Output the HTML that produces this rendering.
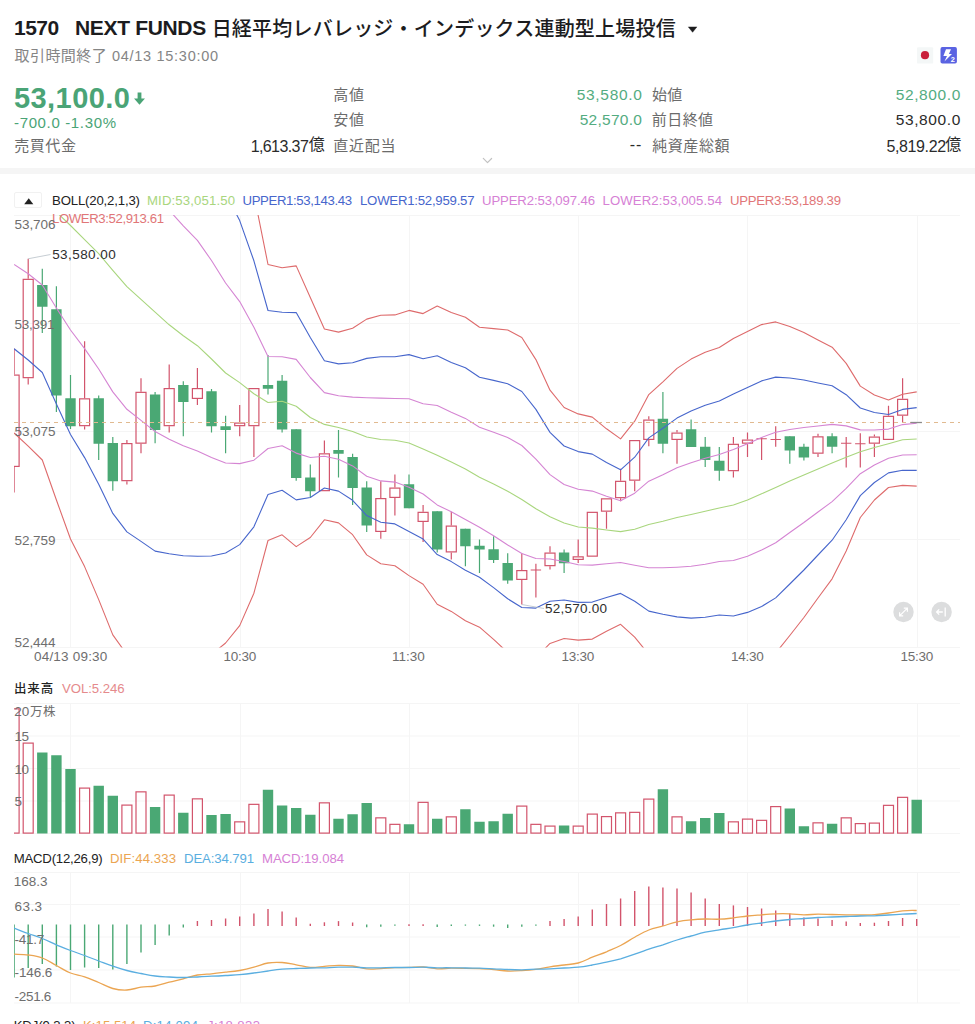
<!DOCTYPE html>
<html lang="ja">
<head>
<meta charset="utf-8">
<title>1570 NEXT FUNDS</title>
<style>
html,body{margin:0;padding:0;background:#fff;}
body{width:975px;height:1024px;position:relative;overflow:hidden;font-family:"Liberation Sans","Noto Sans CJK JP",sans-serif;}
.t{position:absolute;white-space:nowrap;line-height:20px;height:20px;}
svg{position:absolute;left:0;top:0;}
.z{font-family:"Liberation Sans","Noto Sans CJK JP",sans-serif;}
.band{position:absolute;left:0;top:167.7px;width:975px;height:6.7px;background:#f5f5f5;}
.btn{position:absolute;left:14.3px;top:192.4px;width:27.6px;height:15.8px;border:1px solid #f1f1f1;border-radius:2px;box-sizing:border-box;background:#fff;}
</style>
</head>
<body>
<div class="t" id="h1" style="top:16.48px;font-size:21px;color:#1c1c1e;line-height:24px;height:24px;font-weight:700;left:14.00px;letter-spacing:-0.533px;">1570</div><div class="t" id="h2" style="top:16.48px;font-size:21px;color:#1c1c1e;line-height:24px;height:24px;font-weight:700;left:75.00px;letter-spacing:-0.330px;">NEXT FUNDS</div><div class="t z" id="h3" style="top:18.75px;left:211.66px;font-size:20px;letter-spacing:0.21px;color:#1c1c1e;font-weight:500;">日経平均レバレッジ・インデックス連動型上場投信</div>
<div class="t z" id="s1" style="top:45.60px;left:14.60px;font-size:15px;letter-spacing:0.41px;color:#858585;">取引時間終了</div>
<div class="t" id="s2" style="top:46.01px;font-size:14.5px;color:#858585;left:112.00px;letter-spacing:0.710px;">04/13 15:30:00</div><div class="t" id="p1" style="top:81.82px;font-size:29px;color:#4aa476;line-height:32px;height:32px;font-weight:700;left:14.00px;letter-spacing:0.428px;">53,100.0</div><div class="t" id="p2" style="top:112.83px;font-size:15px;color:#4aa476;left:14.00px;letter-spacing:0.647px;">-700.0 -1.30%</div><div class="t z" id="a1" style="top:135.50px;left:14.34px;font-size:15px;letter-spacing:0.52px;color:#6b6b6b;">売買代金</div>
<div class="t" id="a2" style="top:137.07px;font-size:16px;color:#2b2b2b;right:666.20px;letter-spacing:-0.586px;margin-right:0.586px;">1,613.37</div><div class="t z" id="a2c" style="top:135.10px;left:308.83px;font-size:16px;letter-spacing:0.00px;color:#2b2b2b;">億</div>
<div class="t z" id="b1" style="top:85.00px;left:333.22px;font-size:15px;letter-spacing:0.68px;color:#6b6b6b;">高値</div>
<div class="t z" id="b2" style="top:110.20px;left:333.34px;font-size:15px;letter-spacing:0.56px;color:#6b6b6b;">安値</div>
<div class="t z" id="b3" style="top:135.50px;left:333.27px;font-size:15px;letter-spacing:0.73px;color:#6b6b6b;">直近配当</div>
<div class="t" id="c1" style="top:84.85px;font-size:15.5px;color:#53ac81;right:333.00px;letter-spacing:0.714px;margin-right:-0.714px;">53,580.0</div><div class="t" id="c2" style="top:110.05px;font-size:15.5px;color:#53ac81;right:333.00px;letter-spacing:0.286px;margin-right:-0.286px;">52,570.0</div><div class="t" id="c3" style="top:135.00px;font-size:16px;color:#2b2b2b;right:333.60px;letter-spacing:1.000px;margin-right:-1.000px;">--</div><div class="t z" id="d1" style="top:85.00px;left:651.94px;font-size:15px;letter-spacing:0.36px;color:#6b6b6b;">始値</div>
<div class="t z" id="d2" style="top:110.20px;left:651.81px;font-size:15px;letter-spacing:0.43px;color:#6b6b6b;">前日終値</div>
<div class="t z" id="d3" style="top:135.50px;left:652.23px;font-size:15px;letter-spacing:0.56px;color:#6b6b6b;">純資産総額</div>
<div class="t" id="e1" style="top:84.85px;font-size:15.5px;color:#53ac81;right:14.70px;letter-spacing:0.600px;margin-right:-0.600px;">52,800.0</div><div class="t" id="e2" style="top:110.05px;font-size:15.5px;color:#2b2b2b;right:14.70px;letter-spacing:0.600px;margin-right:-0.600px;">53,800.0</div><div class="t" id="e3" style="top:137.07px;font-size:16px;color:#2b2b2b;right:28.90px;letter-spacing:-0.371px;margin-right:0.371px;">5,819.22</div><div class="t z" id="e3c" style="top:135.10px;left:945.33px;font-size:16px;letter-spacing:0.00px;color:#2b2b2b;">億</div>
<div class="band"></div>
<div class="btn"></div>
<svg width="975" height="1024" viewBox="0 0 975 1024">
<path d="M692.6 32.3 L688.3 26.9 L696.9 26.9 Z" fill="#1c1c1e" stroke="#1c1c1e" stroke-width="0.4" stroke-linejoin="round"/>
<path d="M137.6 92.5 h3.8 v6 h3.6 l-5.5 6.2 l-5.5 -6.2 h3.6 z" fill="#4aa476"/>
<path d="M483.3 158.4 L487.5 162.6 L491.6 158.5" fill="none" stroke="#c2c2c2" stroke-width="1.2" stroke-linecap="round" stroke-linejoin="round"/>
<rect x="917" y="47.2" width="16.2" height="16.4" rx="1.2" fill="#f4f7f7"/>
<circle cx="925" cy="55.2" r="4.1" fill="#c9203b"/>
<rect x="940.5" y="47.1" width="16.4" height="16.5" rx="1.8" fill="#5a63e2"/>
<path d="M946.0 49.2L951.0 49.2L948.9 53.9L952.0 53.9L944.4 61.4L947.0 56.1L943.4 56.1Z" fill="#fff"/>
<text x="950.7" y="62" font-family="Liberation Sans, sans-serif" font-size="7.4" font-weight="700" fill="#fff">2</text>
<path d="M28.75 198.3 L33.3 204.2 L24.2 204.2 Z" fill="#222"/>
<defs><clipPath id="cm"><rect x="14" y="215" width="946" height="432.5"/></clipPath><clipPath id="cv"><rect x="14" y="700" width="946" height="134"/></clipPath><clipPath id="cd"><rect x="14" y="872" width="946" height="131"/></clipPath></defs>
<path d="M14 215.5H960 M14 323.5H960 M14 431.5H960 M14 539.5H960 M14 647.5H960 M14 703.5H960 M14 736H960 M14 768.5H960 M14 801H960 M14 833.5H960 M14 872.5H960 M14 904.5H960 M14 937H960 M14 970H960 M14 1003H960 M70.5 215V647.5M70.5 703.5V833.5M70.5 872.5V1003 M240.5 215V647.5M240.5 703.5V833.5M240.5 872.5V1003 M409.5 215V647.5M409.5 703.5V833.5M409.5 872.5V1003 M578.5 215V647.5M578.5 703.5V833.5M578.5 872.5V1003 M747.5 215V647.5M747.5 703.5V833.5M747.5 872.5V1003 M917.5 215V647.5M917.5 703.5V833.5M917.5 872.5V1003" fill="none" stroke="#f5f5f5" stroke-width="1"/>
<g clip-path="url(#cm)">
<path d="M14.1 348.5V374.5M14.1 467V492.5" stroke="#d2546c" stroke-width="1.2"/><rect x="9.1" y="375.10" width="10" height="91.30" fill="none" stroke="#d2546c" stroke-width="1.2"/>
<path d="M28.2 258.75V278.75M28.2 378.25V384.5" stroke="#d2546c" stroke-width="1.2"/><rect x="23.2" y="279.35" width="10" height="98.30" fill="none" stroke="#d2546c" stroke-width="1.2"/>
<path d="M42.3 268.75V333" stroke="#4aa874" stroke-width="1.2"/><rect x="37.1" y="285" width="10.4" height="21.75" fill="#4aa874"/>
<path d="M56.4 286.25V412" stroke="#4aa874" stroke-width="1.2"/><rect x="51.2" y="309.25" width="10.4" height="86.25" fill="#4aa874"/>
<path d="M70.5 375V429" stroke="#4aa874" stroke-width="1.2"/><rect x="65.3" y="398.25" width="10.4" height="28.00" fill="#4aa874"/>
<path d="M84.6 341.25V398.25M84.6 426.25V429.5" stroke="#d2546c" stroke-width="1.2"/><rect x="79.6" y="398.85" width="10" height="26.80" fill="none" stroke="#d2546c" stroke-width="1.2"/>
<path d="M98.7 395.5V460" stroke="#4aa874" stroke-width="1.2"/><rect x="93.5" y="398.25" width="10.4" height="45.50" fill="#4aa874"/>
<path d="M112.8 437V490.75" stroke="#4aa874" stroke-width="1.2"/><rect x="107.6" y="443" width="10.4" height="38.25" fill="#4aa874"/>
<path d="M126.9 440V443M126.9 481.25V484.5" stroke="#d2546c" stroke-width="1.2"/><rect x="121.9" y="443.60" width="10" height="37.05" fill="none" stroke="#d2546c" stroke-width="1.2"/>
<path d="M141.0 378.25V391.75M141.0 443.75V453.25" stroke="#d2546c" stroke-width="1.2"/><rect x="136.0" y="392.35" width="10" height="50.80" fill="none" stroke="#d2546c" stroke-width="1.2"/>
<path d="M155.1 392V443.25" stroke="#4aa874" stroke-width="1.2"/><rect x="149.9" y="394.5" width="10.4" height="35.50" fill="#4aa874"/>
<path d="M169.2 364.5V388M169.2 426.25V432.5" stroke="#d2546c" stroke-width="1.2"/><rect x="164.2" y="388.60" width="10" height="37.05" fill="none" stroke="#d2546c" stroke-width="1.2"/>
<path d="M183.3 381.25V436.25" stroke="#4aa874" stroke-width="1.2"/><rect x="178.1" y="385" width="10.4" height="17.00" fill="#4aa874"/>
<path d="M197.4 368V388M197.4 399V405" stroke="#d2546c" stroke-width="1.2"/><rect x="192.4" y="388.60" width="10" height="9.80" fill="none" stroke="#d2546c" stroke-width="1.2"/>
<path d="M211.5 389V432.5" stroke="#4aa874" stroke-width="1.2"/><rect x="206.3" y="391.25" width="10.4" height="35.00" fill="#4aa874"/>
<path d="M225.6 415.75V453.25" stroke="#4aa874" stroke-width="1.2"/><rect x="220.4" y="426.25" width="10.4" height="3.75" fill="#4aa874"/>
<path d="M239.7 405V422.5M239.7 426.25V436.25" stroke="#d2546c" stroke-width="1.2"/><rect x="234.7" y="423.10" width="10" height="2.55" fill="none" stroke="#d2546c" stroke-width="1.2"/>
<path d="M253.9 426.25V457" stroke="#d2546c" stroke-width="1.2"/><rect x="248.9" y="388.60" width="10" height="37.05" fill="none" stroke="#d2546c" stroke-width="1.2"/>
<path d="M268.0 355V394.5" stroke="#4aa874" stroke-width="1.2"/><rect x="262.8" y="385" width="10.4" height="3.75" fill="#4aa874"/>
<path d="M282.1 375V432.5" stroke="#4aa874" stroke-width="1.2"/><rect x="276.9" y="380.75" width="10.4" height="48.75" fill="#4aa874"/>
<path d="M296.2 429.25V480.75" stroke="#4aa874" stroke-width="1.2"/><rect x="291.0" y="429.25" width="10.4" height="48.75" fill="#4aa874"/>
<path d="M310.3 464.5V497" stroke="#4aa874" stroke-width="1.2"/><rect x="305.1" y="477.5" width="10.4" height="13.75" fill="#4aa874"/>
<path d="M324.4 440.5V453.25" stroke="#d2546c" stroke-width="1.2"/><rect x="319.4" y="453.85" width="10" height="36.80" fill="none" stroke="#d2546c" stroke-width="1.2"/>
<path d="M338.5 430V477.5" stroke="#4aa874" stroke-width="1.2"/><rect x="333.3" y="450" width="10.4" height="3.75" fill="#4aa874"/>
<path d="M352.6 453.75V505" stroke="#4aa874" stroke-width="1.2"/><rect x="347.4" y="457" width="10.4" height="31.00" fill="#4aa874"/>
<path d="M366.7 481.25V532" stroke="#4aa874" stroke-width="1.2"/><rect x="361.5" y="487.5" width="10.4" height="38.00" fill="#4aa874"/>
<path d="M380.8 481.25V498M380.8 532V538.75" stroke="#d2546c" stroke-width="1.2"/><rect x="375.8" y="498.60" width="10" height="32.80" fill="none" stroke="#d2546c" stroke-width="1.2"/>
<path d="M394.9 474.5V487.5M394.9 498V515.5" stroke="#d2546c" stroke-width="1.2"/><rect x="389.9" y="488.10" width="10" height="9.30" fill="none" stroke="#d2546c" stroke-width="1.2"/>
<path d="M409.0 474.5V508.25" stroke="#4aa874" stroke-width="1.2"/><rect x="403.8" y="484.25" width="10.4" height="24.00" fill="#4aa874"/>
<path d="M423.1 505V511.75M423.1 522V542" stroke="#d2546c" stroke-width="1.2"/><rect x="418.1" y="512.35" width="10" height="9.05" fill="none" stroke="#d2546c" stroke-width="1.2"/>
<path d="M437.2 511.25V552.5" stroke="#4aa874" stroke-width="1.2"/><rect x="432.0" y="511.25" width="10.4" height="38.25" fill="#4aa874"/>
<path d="M451.3 511.75V525.5M451.3 552.5V559.5" stroke="#d2546c" stroke-width="1.2"/><rect x="446.3" y="526.10" width="10" height="25.80" fill="none" stroke="#d2546c" stroke-width="1.2"/>
<path d="M465.4 528.75V566.25" stroke="#4aa874" stroke-width="1.2"/><rect x="460.2" y="528.75" width="10.4" height="17.50" fill="#4aa874"/>
<path d="M479.5 539.5V573" stroke="#4aa874" stroke-width="1.2"/><rect x="474.3" y="545.75" width="10.4" height="3.75" fill="#4aa874"/>
<path d="M493.6 536.25V563" stroke="#4aa874" stroke-width="1.2"/><rect x="488.4" y="549.25" width="10.4" height="10.75" fill="#4aa874"/>
<path d="M507.7 553.25V583.75" stroke="#4aa874" stroke-width="1.2"/><rect x="502.5" y="563" width="10.4" height="17.50" fill="#4aa874"/>
<path d="M521.8 553.25V570M521.8 580V604.5" stroke="#d2546c" stroke-width="1.2"/><rect x="516.8" y="570.60" width="10" height="8.80" fill="none" stroke="#d2546c" stroke-width="1.2"/>
<path d="M535.9 563.75V597.5M530.7 570H541.1" stroke="#d2546c" stroke-width="1.2" fill="none"/>
<path d="M550.0 546.25V552.5M550.0 566.25V569.5" stroke="#d2546c" stroke-width="1.2"/><rect x="545.0" y="553.10" width="10" height="12.55" fill="none" stroke="#d2546c" stroke-width="1.2"/>
<path d="M564.1 549.5V573" stroke="#4aa874" stroke-width="1.2"/><rect x="558.9" y="552.5" width="10.4" height="10.75" fill="#4aa874"/>
<path d="M578.2 539.5V556.25M578.2 560V563" stroke="#d2546c" stroke-width="1.2"/><rect x="573.2" y="556.85" width="10" height="2.55" fill="none" stroke="#d2546c" stroke-width="1.2"/>
<rect x="587.3" y="512.35" width="10" height="43.80" fill="none" stroke="#d2546c" stroke-width="1.2"/>
<path d="M606.5 511.75V528.75" stroke="#d2546c" stroke-width="1.2"/><rect x="601.5" y="498.85" width="10" height="12.30" fill="none" stroke="#d2546c" stroke-width="1.2"/>
<path d="M620.6 468.75V480.75M620.6 498.25V501.25" stroke="#d2546c" stroke-width="1.2"/><rect x="615.6" y="481.35" width="10" height="16.30" fill="none" stroke="#d2546c" stroke-width="1.2"/>
<path d="M634.7 480.75V491.25" stroke="#d2546c" stroke-width="1.2"/><rect x="629.7" y="440.60" width="10" height="39.55" fill="none" stroke="#d2546c" stroke-width="1.2"/>
<path d="M648.8 416.25V419.5M648.8 440V446.25" stroke="#d2546c" stroke-width="1.2"/><rect x="643.8" y="420.10" width="10" height="19.30" fill="none" stroke="#d2546c" stroke-width="1.2"/>
<path d="M662.9 392V453.25" stroke="#4aa874" stroke-width="1.2"/><rect x="657.7" y="418.75" width="10.4" height="25.00" fill="#4aa874"/>
<path d="M677.0 430V432.5M677.0 440V463.75" stroke="#d2546c" stroke-width="1.2"/><rect x="672.0" y="433.10" width="10" height="6.30" fill="none" stroke="#d2546c" stroke-width="1.2"/>
<path d="M691.1 419.5V447" stroke="#4aa874" stroke-width="1.2"/><rect x="685.9" y="429.25" width="10.4" height="17.75" fill="#4aa874"/>
<path d="M705.2 437V467" stroke="#4aa874" stroke-width="1.2"/><rect x="700.0" y="446.75" width="10.4" height="13.25" fill="#4aa874"/>
<path d="M719.3 447V480.75" stroke="#4aa874" stroke-width="1.2"/><rect x="714.1" y="460.75" width="10.4" height="10.00" fill="#4aa874"/>
<path d="M733.4 437V443.75M733.4 471.25V477.5" stroke="#d2546c" stroke-width="1.2"/><rect x="728.4" y="444.35" width="10" height="26.30" fill="none" stroke="#d2546c" stroke-width="1.2"/>
<path d="M747.5 432.5V439.5M747.5 443.75V457" stroke="#d2546c" stroke-width="1.2"/><rect x="742.5" y="440.10" width="10" height="3.05" fill="none" stroke="#d2546c" stroke-width="1.2"/>
<path d="M761.6 437V460M756.4 438.75H766.8" stroke="#d2546c" stroke-width="1.2" fill="none"/>
<path d="M775.7 426.25V446.75M770.5 439.5H780.9" stroke="#d2546c" stroke-width="1.2" fill="none"/>
<path d="M789.8 436.25V463.75" stroke="#4aa874" stroke-width="1.2"/><rect x="784.6" y="436.25" width="10.4" height="14.25" fill="#4aa874"/>
<path d="M803.9 443.75V460.5" stroke="#4aa874" stroke-width="1.2"/><rect x="798.7" y="446.75" width="10.4" height="10.75" fill="#4aa874"/>
<path d="M818.0 433.75V436.25M818.0 453.75V457" stroke="#d2546c" stroke-width="1.2"/><rect x="813.0" y="436.85" width="10" height="16.30" fill="none" stroke="#d2546c" stroke-width="1.2"/>
<path d="M832.1 433.25V453.25" stroke="#4aa874" stroke-width="1.2"/><rect x="826.9" y="436.25" width="10.4" height="10.50" fill="#4aa874"/>
<path d="M846.2 437V467.5M841.0 443.25H851.4" stroke="#d2546c" stroke-width="1.2" fill="none"/>
<path d="M860.3 433.25V467.5M855.1 443.75H865.5" stroke="#d2546c" stroke-width="1.2" fill="none"/>
<path d="M874.4 434.5V436.5M874.4 443.75V457" stroke="#d2546c" stroke-width="1.2"/><rect x="869.4" y="437.10" width="10" height="6.05" fill="none" stroke="#d2546c" stroke-width="1.2"/>
<path d="M888.5 405.75V415.75" stroke="#d2546c" stroke-width="1.2"/><rect x="883.5" y="416.35" width="10" height="23.05" fill="none" stroke="#d2546c" stroke-width="1.2"/>
<path d="M902.6 378.25V398.75M902.6 415.75V422" stroke="#d2546c" stroke-width="1.2"/><rect x="897.6" y="399.35" width="10" height="15.80" fill="none" stroke="#d2546c" stroke-width="1.2"/>
<polyline points="14.1,180.2 28.2,187.5 42.3,197.5 56.4,212.0 70.5,225.5 84.6,239.6 98.7,253.7 112.8,270.4 126.9,286.7 141.0,299.4 155.1,312.1 169.2,324.8 183.3,335.8 197.4,345.7 211.5,359.0 225.6,373.0 239.7,382.6 253.9,393.8 268.0,402.5 282.1,401.2 296.2,406.2 310.3,417.5 324.4,424.4 338.5,427.5 352.6,431.5 366.7,437.0 380.8,439.5 394.9,440.3 409.0,443.0 423.1,448.9 437.2,455.2 451.3,462.0 465.4,469.0 479.5,477.2 493.6,484.0 507.7,491.2 521.8,499.5 535.9,508.8 550.0,516.8 564.1,523.0 578.2,527.0 592.3,528.1 606.5,530.0 620.6,531.6 634.7,529.2 648.8,524.5 662.9,521.2 677.0,517.5 691.1,514.5 705.2,511.2 719.3,508.0 733.4,505.0 747.5,500.0 761.6,493.8 775.7,487.5 789.8,481.0 803.9,475.0 818.0,469.0 832.1,463.0 846.2,457.2 860.3,451.8 874.4,447.5 888.5,443.7 902.6,439.8 916.7,439.0" fill="none" stroke="#a9d67e" stroke-width="1.1" stroke-linejoin="round"/>
<polyline points="14.1,96.0 28.2,101.2 42.3,110.0 56.4,116.0 70.5,121.0 84.6,130.6 98.7,138.4 112.8,148.9 126.9,164.1 141.0,178.4 155.1,192.6 169.2,210.3 183.3,225.8 197.4,240.4 211.5,260.5 225.6,283.0 239.7,301.6 253.9,327.2 268.0,356.5 282.1,356.8 296.2,359.4 310.3,377.5 324.4,392.6 338.5,395.7 352.6,397.1 366.7,397.7 380.8,398.1 394.9,398.5 409.0,398.8 423.1,403.8 437.2,405.5 451.3,412.2 465.4,418.4 479.5,427.2 493.6,432.2 507.7,437.5 521.8,445.5 535.9,459.1 550.0,474.6 564.1,484.5 578.2,489.3 592.3,491.1 606.5,496.2 620.6,500.7 634.7,493.2 648.8,481.2 662.9,474.8 677.0,467.8 691.1,462.7 705.2,458.2 719.3,454.5 733.4,449.5 747.5,443.8 761.6,437.4 775.7,432.3 789.8,429.5 803.9,427.5 818.0,426.0 832.1,424.4 846.2,425.9 860.3,429.9 874.4,430.0 888.5,429.1 902.6,424.6 916.7,423.3" fill="none" stroke="#d585d3" stroke-width="1.1" stroke-linejoin="round"/>
<polyline points="14.1,264.5 28.2,273.8 42.3,285.0 56.4,308.0 70.5,330.0 84.6,348.6 98.7,369.0 112.8,391.9 126.9,409.3 141.0,420.4 155.1,431.6 169.2,439.3 183.3,445.8 197.4,451.0 211.5,457.5 225.6,463.0 239.7,463.6 253.9,460.2 268.0,448.5 282.1,445.8 296.2,453.1 310.3,457.5 324.4,456.2 338.5,459.3 352.6,465.9 366.7,476.3 380.8,480.9 394.9,482.1 409.0,487.2 423.1,494.0 437.2,504.9 451.3,511.8 465.4,519.6 479.5,527.2 493.6,535.8 507.7,545.0 521.8,553.5 535.9,558.5 550.0,559.0 564.1,561.5 578.2,564.7 592.3,565.1 606.5,563.8 620.6,562.5 634.7,565.2 648.8,567.8 662.9,567.8 677.0,567.2 691.1,566.3 705.2,564.2 719.3,561.5 733.4,560.5 747.5,556.2 761.6,550.1 775.7,542.7 789.8,532.5 803.9,522.5 818.0,512.0 832.1,501.6 846.2,488.4 860.3,473.7 874.4,465.0 888.5,458.3 902.6,455.0 916.7,454.7" fill="none" stroke="#d585d3" stroke-width="1.1" stroke-linejoin="round"/>
<polyline points="14.1,11.8 28.2,15.0 42.3,22.5 56.4,20.0 70.5,16.5 84.6,21.6 98.7,23.1 112.8,27.4 126.9,41.5 141.0,57.4 155.1,73.1 169.2,95.8 183.3,115.8 197.4,135.1 211.5,162.0 225.6,193.0 239.7,220.6 253.9,260.8 268.0,310.5 282.1,312.2 296.2,312.6 310.3,337.5 324.4,360.8 338.5,363.9 352.6,362.7 366.7,358.4 380.8,356.7 394.9,356.7 409.0,354.6 423.1,358.7 437.2,355.8 451.3,362.4 465.4,367.8 479.5,377.2 493.6,380.4 507.7,383.8 521.8,391.5 535.9,409.4 550.0,432.4 564.1,446.0 578.2,451.6 592.3,454.1 606.5,462.5 620.6,469.8 634.7,457.2 648.8,437.9 662.9,428.2 677.0,418.1 691.1,410.9 705.2,405.2 719.3,401.0 733.4,394.0 747.5,387.6 761.6,380.9 775.7,377.1 789.8,378.0 803.9,380.0 818.0,383.0 832.1,385.8 846.2,394.7 860.3,408.0 874.4,412.5 888.5,414.5 902.6,409.4 916.7,407.6" fill="none" stroke="#4766cc" stroke-width="1.1" stroke-linejoin="round"/>
<polyline points="14.1,348.8 28.2,360.0 42.3,372.5 56.4,404.0 70.5,434.5 84.6,457.6 98.7,484.3 112.8,513.4 126.9,531.9 141.0,541.4 155.1,551.1 169.2,553.8 183.3,555.8 197.4,556.3 211.5,556.0 225.6,553.0 239.7,544.6 253.9,526.8 268.0,494.5 282.1,490.2 296.2,499.9 310.3,497.5 324.4,488.0 338.5,491.1 352.6,500.3 366.7,515.6 380.8,522.3 394.9,523.9 409.0,531.4 423.1,539.1 437.2,554.6 451.3,561.6 465.4,570.2 479.5,577.2 493.6,587.6 507.7,598.8 521.8,607.5 535.9,608.1 550.0,601.2 564.1,600.0 578.2,602.4 592.3,602.1 606.5,597.5 620.6,593.4 634.7,601.2 648.8,611.1 662.9,614.2 677.0,616.9 691.1,618.1 705.2,617.2 719.3,615.0 733.4,616.0 747.5,612.4 761.6,606.5 775.7,597.9 789.8,584.0 803.9,570.0 818.0,555.0 832.1,540.2 846.2,519.7 860.3,495.6 874.4,482.5 888.5,472.9 902.6,470.2 916.7,470.4" fill="none" stroke="#4766cc" stroke-width="1.1" stroke-linejoin="round"/>
<polyline points="14.1,-72.5 28.2,-71.2 42.3,-65.0 56.4,-76.0 70.5,-88.0 84.6,-87.4 98.7,-92.2 112.8,-94.1 126.9,-81.1 141.0,-63.6 155.1,-46.4 169.2,-18.7 183.3,5.8 197.4,29.8 211.5,63.5 225.6,103.0 239.7,139.6 253.9,194.2 268.0,264.5 282.1,267.8 296.2,265.9 310.3,297.5 324.4,329.0 338.5,332.1 352.6,328.3 366.7,319.1 380.8,315.3 394.9,314.9 409.0,310.4 423.1,313.6 437.2,306.1 451.3,312.6 465.4,317.2 479.5,327.2 493.6,328.6 507.7,330.0 521.8,337.5 535.9,359.6 550.0,390.2 564.1,407.5 578.2,413.9 592.3,417.1 606.5,428.8 620.6,438.9 634.7,421.2 648.8,394.6 662.9,381.8 677.0,368.4 691.1,359.1 705.2,352.2 719.3,347.5 733.4,338.5 747.5,331.4 761.6,324.6 775.7,321.9 789.8,326.5 803.9,332.5 818.0,340.0 832.1,347.2 846.2,363.4 860.3,386.1 874.4,395.0 888.5,399.9 902.6,394.2 916.7,391.9" fill="none" stroke="#de6b6c" stroke-width="1.1" stroke-linejoin="round"/>
<polyline points="14.1,433.0 28.2,446.2 42.3,460.0 56.4,500.0 70.5,539.0 84.6,566.6 98.7,599.6 112.8,634.9 126.9,654.5 141.0,662.4 155.1,670.6 169.2,668.3 183.3,665.8 197.4,661.6 211.5,654.5 225.6,643.0 239.7,625.6 253.9,593.2 268.0,540.5 282.1,534.8 296.2,546.6 310.3,537.5 324.4,519.8 338.5,522.9 352.6,534.7 366.7,554.9 380.8,563.7 394.9,565.7 409.0,575.6 423.1,584.2 437.2,604.3 451.3,611.4 465.4,620.8 479.5,627.2 493.6,639.4 507.7,652.5 521.8,661.5 535.9,657.9 550.0,643.4 564.1,638.5 578.2,640.1 592.3,639.1 606.5,631.2 620.6,624.3 634.7,637.2 648.8,654.4 662.9,660.8 677.0,666.6 691.1,669.9 705.2,670.2 719.3,668.5 733.4,671.5 747.5,668.6 761.6,663.0 775.7,653.1 789.8,635.5 803.9,617.5 818.0,598.0 832.1,578.8 846.2,551.0 860.3,517.5 874.4,500.0 888.5,487.5 902.6,485.4 916.7,486.1" fill="none" stroke="#de6b6c" stroke-width="1.1" stroke-linejoin="round"/>
<path d="M14 422.5H960" stroke="#e1ba90" stroke-width="1" stroke-dasharray="4 4" fill="none"/>
<path d="M910.5 422.5H921.9" stroke="#8a8a8a" stroke-width="1.3"/>
</g>
<path d="M28.2 258.75L50.5 254.5" stroke="#b8c0c8" stroke-width="0.8" fill="none"/>
<path d="M521.8 604.5L544 608.5" stroke="#b8c0c8" stroke-width="0.8" fill="none"/>
<circle cx="903.5" cy="612" r="10.2" fill="#dcddde"/><circle cx="941.6" cy="612" r="10.2" fill="#dcddde"/>
<path d="M899.6 615.9L907.4 608.1M903.8 608.1H907.4V611.7M899.6 612.3V615.9H903.2" stroke="#fff" stroke-width="1.2" fill="none"/>
<path d="M945.2 607.5V616.5M942.8 612H936.6M939.2 609.4L936.6 612L939.2 614.6" stroke="#fff" stroke-width="1.3" fill="none"/>
<g clip-path="url(#cv)">
<rect x="9.1" y="708.85" width="10" height="124.25" fill="none" stroke="#d2546c" stroke-width="1.2"/>
<rect x="23.2" y="743.10" width="10" height="90.00" fill="none" stroke="#d2546c" stroke-width="1.2"/>
<rect x="37.1" y="752.5" width="10.4" height="81.00" fill="#4aa874"/>
<rect x="51.2" y="755.25" width="10.4" height="78.25" fill="#4aa874"/>
<rect x="65.3" y="769" width="10.4" height="64.50" fill="#4aa874"/>
<rect x="79.6" y="788.10" width="10" height="45.00" fill="none" stroke="#d2546c" stroke-width="1.2"/>
<rect x="93.5" y="785.75" width="10.4" height="47.75" fill="#4aa874"/>
<rect x="107.6" y="795.75" width="10.4" height="37.75" fill="#4aa874"/>
<rect x="121.9" y="805.10" width="10" height="28.00" fill="none" stroke="#d2546c" stroke-width="1.2"/>
<rect x="136.0" y="791.85" width="10" height="41.25" fill="none" stroke="#d2546c" stroke-width="1.2"/>
<rect x="149.9" y="807" width="10.4" height="26.50" fill="#4aa874"/>
<rect x="164.2" y="795.10" width="10" height="38.00" fill="none" stroke="#d2546c" stroke-width="1.2"/>
<rect x="178.1" y="812.75" width="10.4" height="20.75" fill="#4aa874"/>
<rect x="192.4" y="798.85" width="10" height="34.25" fill="none" stroke="#d2546c" stroke-width="1.2"/>
<rect x="206.3" y="815" width="10.4" height="18.50" fill="#4aa874"/>
<rect x="220.4" y="814" width="10.4" height="19.50" fill="#4aa874"/>
<rect x="234.7" y="821.85" width="10" height="11.25" fill="none" stroke="#d2546c" stroke-width="1.2"/>
<rect x="248.9" y="804.35" width="10" height="28.75" fill="none" stroke="#d2546c" stroke-width="1.2"/>
<rect x="262.8" y="789.75" width="10.4" height="43.75" fill="#4aa874"/>
<rect x="276.9" y="805.5" width="10.4" height="28.00" fill="#4aa874"/>
<rect x="291.0" y="808" width="10.4" height="25.50" fill="#4aa874"/>
<rect x="305.1" y="814.75" width="10.4" height="18.75" fill="#4aa874"/>
<rect x="319.4" y="802.85" width="10" height="30.25" fill="none" stroke="#d2546c" stroke-width="1.2"/>
<rect x="333.3" y="818.75" width="10.4" height="14.75" fill="#4aa874"/>
<rect x="347.4" y="814.25" width="10.4" height="19.25" fill="#4aa874"/>
<rect x="361.5" y="803" width="10.4" height="30.50" fill="#4aa874"/>
<rect x="375.8" y="817.85" width="10" height="15.25" fill="none" stroke="#d2546c" stroke-width="1.2"/>
<rect x="389.9" y="824.35" width="10" height="8.75" fill="none" stroke="#d2546c" stroke-width="1.2"/>
<rect x="403.8" y="824.25" width="10.4" height="9.25" fill="#4aa874"/>
<rect x="418.1" y="802.35" width="10" height="30.75" fill="none" stroke="#d2546c" stroke-width="1.2"/>
<rect x="432.0" y="818.75" width="10.4" height="14.75" fill="#4aa874"/>
<rect x="446.3" y="816.85" width="10" height="16.25" fill="none" stroke="#d2546c" stroke-width="1.2"/>
<rect x="460.2" y="809.25" width="10.4" height="24.25" fill="#4aa874"/>
<rect x="474.3" y="821.75" width="10.4" height="11.75" fill="#4aa874"/>
<rect x="488.4" y="821.25" width="10.4" height="12.25" fill="#4aa874"/>
<rect x="502.5" y="813.75" width="10.4" height="19.75" fill="#4aa874"/>
<rect x="516.8" y="806.10" width="10" height="27.00" fill="none" stroke="#d2546c" stroke-width="1.2"/>
<rect x="530.9" y="824.35" width="10" height="8.75" fill="none" stroke="#d2546c" stroke-width="1.2"/>
<rect x="545.0" y="826.10" width="10" height="7.00" fill="none" stroke="#d2546c" stroke-width="1.2"/>
<rect x="558.9" y="825.5" width="10.4" height="8.00" fill="#4aa874"/>
<rect x="573.2" y="826.10" width="10" height="7.00" fill="none" stroke="#d2546c" stroke-width="1.2"/>
<rect x="587.3" y="814.10" width="10" height="19.00" fill="none" stroke="#d2546c" stroke-width="1.2"/>
<rect x="601.5" y="816.60" width="10" height="16.50" fill="none" stroke="#d2546c" stroke-width="1.2"/>
<rect x="615.6" y="812.85" width="10" height="20.25" fill="none" stroke="#d2546c" stroke-width="1.2"/>
<rect x="629.7" y="812.35" width="10" height="20.75" fill="none" stroke="#d2546c" stroke-width="1.2"/>
<rect x="643.8" y="799.10" width="10" height="34.00" fill="none" stroke="#d2546c" stroke-width="1.2"/>
<rect x="657.7" y="789.25" width="10.4" height="44.25" fill="#4aa874"/>
<rect x="672.0" y="816.85" width="10" height="16.25" fill="none" stroke="#d2546c" stroke-width="1.2"/>
<rect x="685.9" y="821.25" width="10.4" height="12.25" fill="#4aa874"/>
<rect x="700.0" y="818" width="10.4" height="15.50" fill="#4aa874"/>
<rect x="714.1" y="813" width="10.4" height="20.50" fill="#4aa874"/>
<rect x="728.4" y="821.85" width="10" height="11.25" fill="none" stroke="#d2546c" stroke-width="1.2"/>
<rect x="742.5" y="819.10" width="10" height="14.00" fill="none" stroke="#d2546c" stroke-width="1.2"/>
<rect x="756.6" y="820.35" width="10" height="12.75" fill="none" stroke="#d2546c" stroke-width="1.2"/>
<rect x="770.7" y="806.60" width="10" height="26.50" fill="none" stroke="#d2546c" stroke-width="1.2"/>
<rect x="784.6" y="808.5" width="10.4" height="25.00" fill="#4aa874"/>
<rect x="798.7" y="826.25" width="10.4" height="7.25" fill="#4aa874"/>
<rect x="813.0" y="822.85" width="10" height="10.25" fill="none" stroke="#d2546c" stroke-width="1.2"/>
<rect x="826.9" y="823.75" width="10.4" height="9.75" fill="#4aa874"/>
<rect x="841.2" y="817.85" width="10" height="15.25" fill="none" stroke="#d2546c" stroke-width="1.2"/>
<rect x="855.3" y="823.60" width="10" height="9.50" fill="none" stroke="#d2546c" stroke-width="1.2"/>
<rect x="869.4" y="823.10" width="10" height="10.00" fill="none" stroke="#d2546c" stroke-width="1.2"/>
<rect x="883.5" y="805.35" width="10" height="27.75" fill="none" stroke="#d2546c" stroke-width="1.2"/>
<rect x="897.6" y="797.35" width="10" height="35.75" fill="none" stroke="#d2546c" stroke-width="1.2"/>
<rect x="911.5" y="799.75" width="10.4" height="33.75" fill="#4aa874"/>
</g>
<g clip-path="url(#cd)">
<path d="M14.1 924.5V977.5" stroke="#4aa874" stroke-width="1.4"/>
<path d="M28.2 924.5V968.0" stroke="#4aa874" stroke-width="1.4"/>
<path d="M42.3 924.5V964.0" stroke="#4aa874" stroke-width="1.4"/>
<path d="M56.4 924.5V966.5" stroke="#4aa874" stroke-width="1.4"/>
<path d="M70.5 924.5V970.0" stroke="#4aa874" stroke-width="1.4"/>
<path d="M84.6 924.5V967.5" stroke="#4aa874" stroke-width="1.4"/>
<path d="M98.7 924.5V968.0" stroke="#4aa874" stroke-width="1.4"/>
<path d="M112.8 924.5V969.5" stroke="#4aa874" stroke-width="1.4"/>
<path d="M126.9 924.5V964.0" stroke="#4aa874" stroke-width="1.4"/>
<path d="M141.0 924.5V952.5" stroke="#4aa874" stroke-width="1.4"/>
<path d="M155.1 924.5V945.0" stroke="#4aa874" stroke-width="1.4"/>
<path d="M169.2 924.5V935.5" stroke="#4aa874" stroke-width="1.4"/>
<path d="M183.3 924.5V927.5" stroke="#4aa874" stroke-width="1.4"/>
<path d="M197.4 926.0V921.0" stroke="#d2546c" stroke-width="1.4"/>
<path d="M211.5 926.0V920.0" stroke="#d2546c" stroke-width="1.4"/>
<path d="M225.6 926.0V918.5" stroke="#d2546c" stroke-width="1.4"/>
<path d="M239.7 926.0V916.6" stroke="#d2546c" stroke-width="1.4"/>
<path d="M253.9 926.0V913.5" stroke="#d2546c" stroke-width="1.4"/>
<path d="M268.0 926.0V909.0" stroke="#d2546c" stroke-width="1.4"/>
<path d="M282.1 926.0V911.5" stroke="#d2546c" stroke-width="1.4"/>
<path d="M296.2 926.0V917.5" stroke="#d2546c" stroke-width="1.4"/>
<path d="M310.3 926.0V923.8" stroke="#d2546c" stroke-width="1.4"/>
<path d="M324.4 926.0V922.3" stroke="#d2546c" stroke-width="1.4"/>
<path d="M338.5 926.0V921.1" stroke="#d2546c" stroke-width="1.4"/>
<path d="M352.6 926.0V922.5" stroke="#d2546c" stroke-width="1.4"/>
<path d="M366.7 924.5V927.3" stroke="#4aa874" stroke-width="1.4"/>
<path d="M380.8 924.5V926.7" stroke="#4aa874" stroke-width="1.4"/>
<path d="M394.9 924.5V925.8" stroke="#4aa874" stroke-width="1.4"/>
<path d="M409.0 926.0V924.2" stroke="#d2546c" stroke-width="1.4"/>
<path d="M423.1 926.0V924.2" stroke="#d2546c" stroke-width="1.4"/>
<path d="M437.2 924.5V927.0" stroke="#4aa874" stroke-width="1.4"/>
<path d="M451.3 924.5V926.0" stroke="#4aa874" stroke-width="1.4"/>
<path d="M465.4 924.5V925.7" stroke="#4aa874" stroke-width="1.4"/>
<path d="M479.5 924.5V925.9" stroke="#4aa874" stroke-width="1.4"/>
<path d="M493.6 924.5V926.7" stroke="#4aa874" stroke-width="1.4"/>
<path d="M507.7 924.5V928.0" stroke="#4aa874" stroke-width="1.4"/>
<path d="M521.8 924.5V926.7" stroke="#4aa874" stroke-width="1.4"/>
<path d="M535.9 924.5V925.8" stroke="#4aa874" stroke-width="1.4"/>
<path d="M550.0 926.0V921.0" stroke="#d2546c" stroke-width="1.4"/>
<path d="M564.1 926.0V919.0" stroke="#d2546c" stroke-width="1.4"/>
<path d="M578.2 926.0V916.5" stroke="#d2546c" stroke-width="1.4"/>
<path d="M592.3 926.0V909.5" stroke="#d2546c" stroke-width="1.4"/>
<path d="M606.5 926.0V904.0" stroke="#d2546c" stroke-width="1.4"/>
<path d="M620.6 926.0V898.5" stroke="#d2546c" stroke-width="1.4"/>
<path d="M634.7 926.0V891.0" stroke="#d2546c" stroke-width="1.4"/>
<path d="M648.8 926.0V886.5" stroke="#d2546c" stroke-width="1.4"/>
<path d="M662.9 926.0V887.5" stroke="#d2546c" stroke-width="1.4"/>
<path d="M677.0 926.0V888.5" stroke="#d2546c" stroke-width="1.4"/>
<path d="M691.1 926.0V892.5" stroke="#d2546c" stroke-width="1.4"/>
<path d="M705.2 926.0V898.5" stroke="#d2546c" stroke-width="1.4"/>
<path d="M719.3 926.0V904.0" stroke="#d2546c" stroke-width="1.4"/>
<path d="M733.4 926.0V905.4" stroke="#d2546c" stroke-width="1.4"/>
<path d="M747.5 926.0V907.0" stroke="#d2546c" stroke-width="1.4"/>
<path d="M761.6 926.0V908.5" stroke="#d2546c" stroke-width="1.4"/>
<path d="M775.7 926.0V910.5" stroke="#d2546c" stroke-width="1.4"/>
<path d="M789.8 926.0V913.5" stroke="#d2546c" stroke-width="1.4"/>
<path d="M803.9 926.0V917.5" stroke="#d2546c" stroke-width="1.4"/>
<path d="M818.0 926.0V918.5" stroke="#d2546c" stroke-width="1.4"/>
<path d="M832.1 926.0V920.0" stroke="#d2546c" stroke-width="1.4"/>
<path d="M846.2 926.0V921.5" stroke="#d2546c" stroke-width="1.4"/>
<path d="M860.3 926.0V923.0" stroke="#d2546c" stroke-width="1.4"/>
<path d="M874.4 926.0V922.7" stroke="#d2546c" stroke-width="1.4"/>
<path d="M888.5 926.0V921.0" stroke="#d2546c" stroke-width="1.4"/>
<path d="M902.6 926.0V918.0" stroke="#d2546c" stroke-width="1.4"/>
<path d="M916.7 926.0V919.0" stroke="#d2546c" stroke-width="1.4"/>
<path d="M14.1 954.2C16.6 954.4 23.1 954.3 28.2 955.0C33.3 955.7 37.2 956.1 42.3 958.0C47.4 959.9 51.3 962.8 56.4 965.5C61.5 968.2 65.4 971.0 70.5 973.0C75.6 975.0 79.5 975.0 84.6 976.8C89.7 978.5 93.6 980.4 98.7 982.5C103.8 984.6 107.7 987.1 112.8 988.5C117.9 989.9 121.8 990.2 126.9 990.0C132.0 989.8 135.9 988.0 141.0 987.2C146.1 986.5 150.0 986.9 155.1 986.0C160.2 985.1 164.2 983.6 169.2 982.2C174.3 980.9 178.3 980.1 183.3 978.8C188.4 977.4 192.4 975.9 197.4 975.0C202.5 974.1 206.5 974.2 211.5 973.8C216.6 973.3 220.6 972.8 225.6 972.2C230.7 971.7 234.7 971.4 239.7 970.5C244.8 969.6 248.8 968.6 253.9 967.2C258.9 965.9 262.9 963.9 268.0 963.0C273.0 962.1 277.0 962.2 282.1 962.5C287.1 962.8 291.1 963.9 296.2 964.8C301.2 965.6 305.2 967.1 310.3 967.4C315.3 967.7 319.3 966.8 324.4 966.4C329.4 966.0 333.4 965.4 338.5 965.3C343.6 965.2 347.5 965.4 352.6 966.0C357.7 966.6 361.6 968.4 366.7 968.9C371.8 969.4 375.7 968.8 380.8 968.6C385.9 968.4 389.8 967.9 394.9 967.7C400.0 967.5 403.9 967.4 409.0 967.3C414.1 967.2 418.0 966.7 423.1 967.0C428.2 967.3 432.1 968.5 437.2 968.8C442.3 969.0 446.2 968.3 451.3 968.2C456.4 968.2 460.3 968.3 465.4 968.4C470.5 968.4 474.4 968.5 479.5 968.7C484.6 968.9 488.5 969.2 493.6 969.6C498.7 970.0 502.6 970.8 507.7 971.0C512.8 971.2 516.8 970.9 521.8 970.6C526.9 970.3 530.9 970.0 535.9 969.3C541.0 968.6 545.0 967.5 550.0 966.8C555.1 966.0 559.1 965.7 564.1 965.0C569.2 964.3 573.2 964.4 578.2 963.0C583.3 961.6 587.3 959.3 592.3 957.2C597.4 955.2 601.4 953.9 606.5 951.8C611.5 949.6 615.5 948.1 620.6 945.5C625.6 942.9 629.6 940.0 634.7 937.2C639.7 934.5 643.7 932.0 648.8 930.0C653.8 928.0 657.8 927.5 662.9 926.0C667.9 924.5 671.9 922.9 677.0 921.8C682.0 920.6 686.0 920.2 691.1 919.8C696.2 919.3 700.1 919.1 705.2 919.0C710.3 918.9 714.2 919.4 719.3 919.2C724.4 919.1 728.3 918.5 733.4 917.9C738.5 917.3 742.4 916.6 747.5 916.0C752.6 915.4 756.5 915.2 761.6 914.8C766.7 914.3 770.6 913.9 775.7 913.8C780.8 913.6 784.7 913.6 789.8 913.8C794.9 913.9 798.8 914.7 803.9 914.8C809.0 914.8 812.9 914.3 818.0 914.2C823.1 914.2 827.0 914.4 832.1 914.5C837.2 914.6 841.1 914.7 846.2 914.8C851.3 914.8 855.2 915.0 860.3 915.0C865.4 915.0 869.4 915.0 874.4 914.6C879.5 914.2 883.5 913.7 888.5 913.0C893.6 912.3 897.6 911.2 902.6 910.8C907.7 910.3 914.2 910.5 916.7 910.5" fill="none" stroke="#eba552" stroke-width="1.3" stroke-linejoin="round"/>
<path d="M14.1 928.0C16.6 929.0 23.1 931.6 28.2 933.5C33.3 935.4 37.2 936.5 42.3 938.5C47.4 940.5 51.3 942.6 56.4 944.8C61.5 946.9 65.4 948.6 70.5 950.5C75.6 952.4 79.5 953.6 84.6 955.5C89.7 957.4 93.6 959.1 98.7 961.0C103.8 962.9 107.7 964.5 112.8 966.2C117.9 968.0 121.8 969.2 126.9 970.5C132.0 971.8 135.9 972.5 141.0 973.5C146.1 974.5 150.0 975.4 155.1 976.0C160.2 976.6 164.2 976.7 169.2 977.0C174.3 977.3 178.3 977.5 183.3 977.5C188.4 977.5 192.4 977.2 197.4 977.0C202.5 976.8 206.5 976.5 211.5 976.2C216.6 976.0 220.6 975.8 225.6 975.5C230.7 975.2 234.7 975.2 239.7 974.7C244.8 974.2 248.8 973.7 253.9 973.0C258.9 972.3 262.9 971.7 268.0 971.0C273.0 970.3 277.0 969.7 282.1 969.2C287.1 968.8 291.1 968.7 296.2 968.5C301.2 968.3 305.2 968.1 310.3 968.0C315.3 967.9 319.3 967.9 324.4 967.8C329.4 967.6 333.4 967.3 338.5 967.2C343.6 967.2 347.5 967.2 352.6 967.2C357.7 967.3 361.6 967.7 366.7 967.8C371.8 967.8 375.7 967.8 380.8 967.8C385.9 967.7 389.8 967.5 394.9 967.5C400.0 967.5 403.9 967.5 409.0 967.5C414.1 967.5 418.0 967.2 423.1 967.2C428.2 967.3 432.1 967.7 437.2 967.8C442.3 967.8 446.2 967.7 451.3 967.8C456.4 967.8 460.3 967.9 465.4 968.0C470.5 968.1 474.4 968.1 479.5 968.2C484.6 968.4 488.5 968.5 493.6 968.8C498.7 969.0 502.6 969.3 507.7 969.5C512.8 969.7 516.8 969.8 521.8 969.8C526.9 969.7 530.9 969.4 535.9 969.2C541.0 969.1 545.0 969.0 550.0 968.8C555.1 968.5 559.1 968.3 564.1 968.0C569.2 967.7 573.2 967.8 578.2 967.2C583.3 966.7 587.3 965.9 592.3 965.0C597.4 964.1 601.4 963.4 606.5 962.2C611.5 961.1 615.5 960.2 620.6 958.8C625.6 957.3 629.6 956.0 634.7 954.2C639.7 952.5 643.7 951.0 648.8 949.2C653.8 947.5 657.8 946.4 662.9 944.8C667.9 943.1 671.9 941.6 677.0 940.0C682.0 938.4 686.0 937.4 691.1 936.0C696.2 934.6 700.1 933.4 705.2 932.2C710.3 931.1 714.2 930.6 719.3 929.8C724.4 928.9 728.3 928.6 733.4 927.7C738.5 926.8 742.4 925.8 747.5 925.0C752.6 924.2 756.5 923.7 761.6 923.0C766.7 922.3 770.6 921.6 775.7 921.0C780.8 920.4 784.7 920.0 789.8 919.5C794.9 919.0 798.8 918.9 803.9 918.5C809.0 918.1 812.9 917.8 818.0 917.5C823.1 917.2 827.0 917.2 832.1 917.0C837.2 916.8 841.1 916.7 846.2 916.5C851.3 916.3 855.2 916.1 860.3 916.0C865.4 915.9 869.4 915.9 874.4 915.8C879.5 915.6 883.5 915.3 888.5 915.0C893.6 914.7 897.6 914.5 902.6 914.2C907.7 914.0 914.2 913.6 916.7 913.5" fill="none" stroke="#5aaee0" stroke-width="1.3" stroke-linejoin="round"/>
</g>
</svg>
<div class="t" id="l0" style="top:191.47px;font-size:13.2px;color:#222;left:52.00px;letter-spacing:-0.168px;">BOLL(20,2,1,3)</div><div class="t" id="l1" style="top:191.47px;font-size:13.2px;color:#a9d67e;left:147.00px;letter-spacing:0.123px;">MID:53,051.50</div><div class="t" id="l2" style="top:191.47px;font-size:13.2px;color:#4766cc;left:242.50px;letter-spacing:-0.372px;">UPPER1:53,143.43</div><div class="t" id="l3" style="top:191.47px;font-size:13.2px;color:#4766cc;left:360.00px;letter-spacing:-0.233px;">LOWER1:52,959.57</div><div class="t" id="l4" style="top:191.47px;font-size:13.2px;color:#d681d5;left:482.00px;letter-spacing:-0.140px;">UPPER2:53,097.46</div><div class="t" id="l5" style="top:191.47px;font-size:13.2px;color:#d681d5;left:602.50px;letter-spacing:0.100px;">LOWER2:53,005.54</div><div class="t" id="l6" style="top:191.47px;font-size:13.2px;color:#e17678;left:730.00px;letter-spacing:-0.274px;">UPPER3:53,189.39</div><div class="t" id="l7" style="top:208.87px;font-size:13.2px;color:#e17678;left:52.00px;letter-spacing:-0.402px;">LOWER3:52,913.61</div><div class="t" id="y1" style="top:214.77px;font-size:13.5px;color:#6e6e6e;left:14.50px;letter-spacing:-0.069px;">53,706</div><div class="t" id="y2" style="top:315.37px;font-size:13.5px;color:#6e6e6e;left:14.50px;letter-spacing:-0.269px;">53,391</div><div class="t" id="y3" style="top:422.37px;font-size:13.5px;color:#6e6e6e;left:14.50px;letter-spacing:-0.069px;">53,075</div><div class="t" id="y4" style="top:531.37px;font-size:13.5px;color:#6e6e6e;left:14.50px;letter-spacing:-0.069px;">52,759</div><div class="t" id="y5" style="top:632.97px;font-size:13.5px;color:#6e6e6e;left:14.50px;letter-spacing:-0.069px;">52,444</div><div class="t" id="hi" style="top:245.17px;font-size:13.5px;color:#2e2e2e;left:52.20px;letter-spacing:0.429px;">53,580.00</div><div class="t" id="lo" style="top:599.37px;font-size:13.5px;color:#2e2e2e;left:545.00px;letter-spacing:0.231px;">52,570.00</div><div class="t" id="x1" style="top:646.57px;font-size:13.5px;color:#6e6e6e;left:34.00px;letter-spacing:0.198px;">04/13 09:30</div><div class="t" id="x2" style="top:646.57px;font-size:13.5px;color:#6e6e6e;left:223.50px;letter-spacing:-0.254px;">10:30</div><div class="t" id="x3" style="top:646.57px;font-size:13.5px;color:#6e6e6e;left:392.00px;letter-spacing:-0.008px;">11:30</div><div class="t" id="x4" style="top:646.57px;font-size:13.5px;color:#6e6e6e;left:561.40px;letter-spacing:-0.254px;">13:30</div><div class="t" id="x5" style="top:646.57px;font-size:13.5px;color:#6e6e6e;left:730.90px;letter-spacing:-0.254px;">14:30</div><div class="t" id="x6" style="top:646.57px;font-size:13.5px;color:#6e6e6e;left:900.40px;letter-spacing:-0.254px;">15:30</div><div class="t z" id="v0" style="top:678.70px;left:13.95px;font-size:12.5px;letter-spacing:0.88px;color:#222;font-weight:500;">出来高</div>
<div class="t" id="v1" style="top:679.27px;font-size:13.2px;color:#e58a8c;left:62.00px;letter-spacing:-0.070px;">VOL:5.246</div><div class="t" id="v2" style="top:702.37px;font-size:13.5px;color:#6e6e6e;left:14.25px;">20</div><div class="t z" id="v2c" style="top:702.00px;left:29.97px;font-size:12.5px;letter-spacing:0.49px;color:#6e6e6e;">万株</div>
<div class="t" id="v3" style="top:727.37px;font-size:13.5px;color:#6e6e6e;left:14.45px;letter-spacing:-0.500px;">15</div><div class="t" id="v4" style="top:760.37px;font-size:13.5px;color:#6e6e6e;left:14.45px;letter-spacing:-0.500px;">10</div><div class="t" id="v5" style="top:792.37px;font-size:13.5px;color:#6e6e6e;left:14.50px;">5</div><div class="t" id="m0" style="top:848.87px;font-size:13.2px;color:#222;left:13.70px;letter-spacing:-0.218px;">MACD(12,26,9)</div><div class="t" id="m1" style="top:848.87px;font-size:13.2px;color:#eba552;left:110.00px;letter-spacing:0.083px;">DIF:44.333</div><div class="t" id="m2" style="top:848.87px;font-size:13.2px;color:#5aaee0;left:184.00px;letter-spacing:-0.125px;">DEA:34.791</div><div class="t" id="m3" style="top:848.87px;font-size:13.2px;color:#d681d5;left:262.00px;letter-spacing:-0.083px;">MACD:19.084</div><div class="t" id="n1" style="top:871.87px;font-size:13.5px;color:#6e6e6e;left:13.70px;">168.3</div><div class="t" id="n2" style="top:896.87px;font-size:13.5px;color:#6e6e6e;left:14.50px;letter-spacing:0.442px;">63.3</div><div class="t" id="n3" style="top:929.87px;font-size:13.5px;color:#6e6e6e;left:14.50px;letter-spacing:-0.266px;">-41.7</div><div class="t" id="n4" style="top:962.87px;font-size:13.5px;color:#6e6e6e;left:14.50px;letter-spacing:-0.081px;">-146.6</div><div class="t" id="n5" style="top:986.87px;font-size:13.5px;color:#6e6e6e;left:14.50px;letter-spacing:-0.281px;">-251.6</div><div class="t" id="k0" style="top:1016.17px;font-size:13.2px;color:#222;left:13.70px;letter-spacing:-0.115px;">KDJ(9,3,3)</div><div class="t" id="k1" style="top:1016.17px;font-size:13.2px;color:#eba552;left:83.00px;letter-spacing:0.029px;">K:15.514</div><div class="t" id="k2" style="top:1016.17px;font-size:13.2px;color:#5aaee0;left:143.00px;letter-spacing:0.210px;">D:14.094</div><div class="t" id="k3" style="top:1016.17px;font-size:13.2px;color:#d681d5;left:207.00px;letter-spacing:0.344px;">J:18.833</div>
</body>
</html>
